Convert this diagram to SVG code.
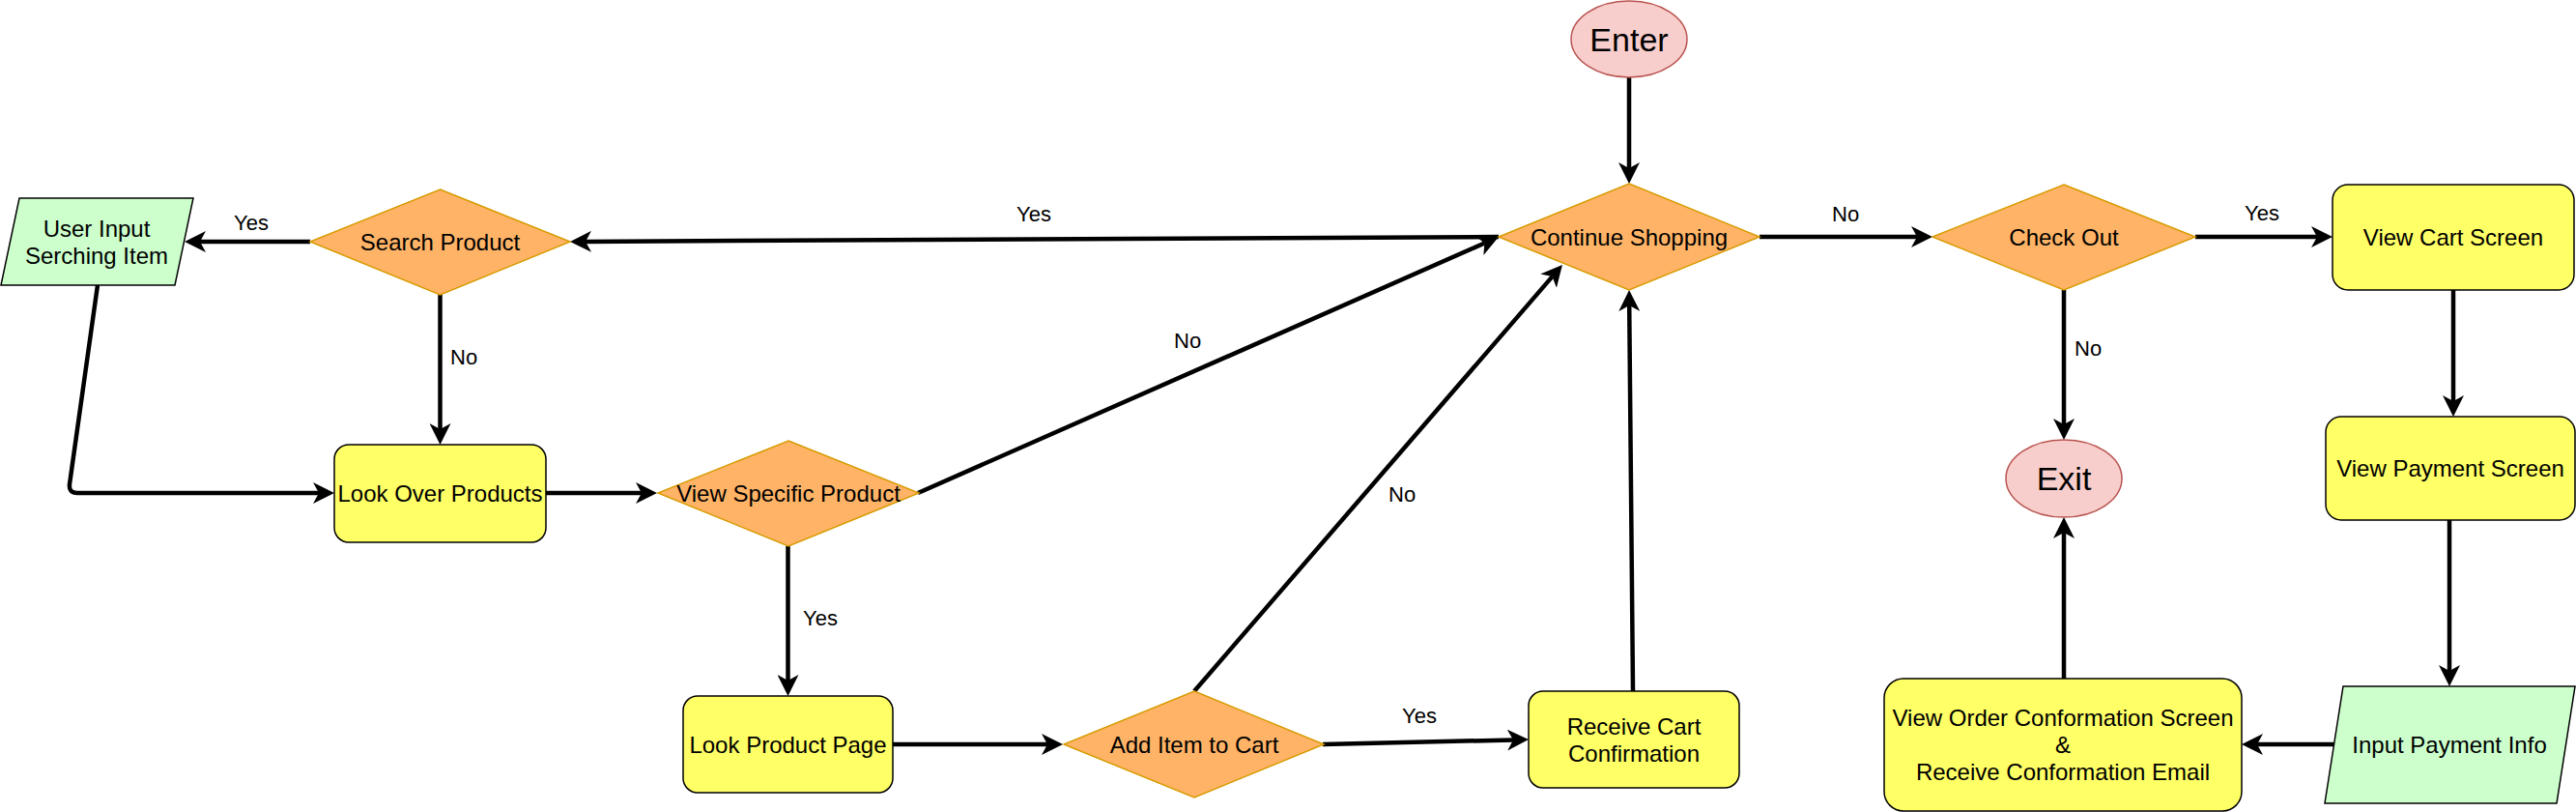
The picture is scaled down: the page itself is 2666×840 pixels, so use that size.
<svg xmlns="http://www.w3.org/2000/svg" width="2666" height="840" viewBox="0 0 2666 840">
<style>
.dia{fill:#FFB366;stroke:#D79B00;stroke-width:1.5}
.box{fill:#FFFF66;stroke:#000;stroke-width:1.5}
.io{fill:#CCFFCC;stroke:#000;stroke-width:1.5}
.term{fill:#F8CECC;stroke:#B85450;stroke-width:1.5}
.t{font-family:"Liberation Sans",Arial,sans-serif;font-size:24px;fill:#000;text-anchor:middle}
.big{font-size:34px}
.lbl{font-family:"Liberation Sans",Arial,sans-serif;font-size:22px;fill:#000}
.c{fill:none;stroke:#000;stroke-width:4.5;marker-end:url(#arr)}
</style>
<defs>
<marker id="arr" markerUnits="userSpaceOnUse" markerWidth="22" markerHeight="22" viewBox="0 0 22 22" refX="6" refY="11" orient="auto">
<path d="M0,0 L22,11 L0,22 L6,11 Z" fill="#000"/>
</marker>
</defs>
<rect width="2666" height="840" fill="#fff"/>
<g id="connectors">
<path class="c" d="M1686,80 L1686,174"/>
<path class="c" d="M1551,245 L606,249.9"/>
<path class="c" d="M321,250 L207,250"/>
<path class="c" d="M455.5,305 L455.5,444"/>
<path class="c" d="M101,295 L72,501 Q71,510 80,510 L330,510"/>
<path class="c" d="M565,510 L664,510"/>
<path class="c" d="M950,510 L1536.4,251.5"/>
<path class="c" d="M815.5,565 L815.5,704"/>
<path class="c" d="M924,770 L1084,770"/>
<path class="c" d="M1236,715 L1606.5,286.1"/>
<path class="c" d="M1369,770 L1566,765.4"/>
<path class="c" d="M1690,715 L1686.2,316"/>
<path class="c" d="M1821,245 L1984,245"/>
<path class="c" d="M2272,245 L2398,245"/>
<path class="c" d="M2136,300 L2136,439"/>
<path class="c" d="M2539,300 L2539,415"/>
<path class="c" d="M2535,538 L2535,694"/>
<path class="c" d="M2415,770 L2336,770"/>
<path class="c" d="M2136,702 L2136,551"/>
<text class="lbl" x="1052" y="229">Yes</text>
<text class="lbl" x="242" y="238">Yes</text>
<text class="lbl" x="466" y="377">No</text>
<text class="lbl" x="1215" y="360">No</text>
<text class="lbl" x="831" y="647">Yes</text>
<text class="lbl" x="1437" y="519">No</text>
<text class="lbl" x="1451" y="748">Yes</text>
<text class="lbl" x="1896" y="229">No</text>
<text class="lbl" x="2323" y="228">Yes</text>
<text class="lbl" x="2147" y="368">No</text>
</g>
<g id="enter">
<ellipse class="term" cx="1686" cy="40.5" rx="60" ry="39.5"/>
<text class="t big" x="1686" y="53">Enter</text>
</g>
<g id="continue-shopping">
<polygon class="dia" points="1686,190 1821,245 1686,300 1551,245"/>
<text class="t" x="1686" y="253.5">Continue Shopping</text>
</g>
<g id="search-product">
<polygon class="dia" points="455.5,196 590,250 455.5,305 321,250"/>
<text class="t" x="455.5" y="258.5">Search Product</text>
</g>
<g id="user-input">
<polygon class="io" points="20,205 200,205 181,295 1,295"/>
<text class="t" x="100" y="244.5">User Input</text>
<text class="t" x="100" y="272.5">Serching Item</text>
</g>
<g id="look-over-products">
<rect class="box" x="346" y="460" width="219" height="101" rx="15" ry="15"/>
<text class="t" x="455.5" y="519">Look Over Products</text>
</g>
<g id="view-specific-product">
<polygon class="dia" points="816,456 951,510 816,565 681,510"/>
<text class="t" x="816" y="518.5">View Specific Product</text>
</g>
<g id="look-product-page">
<rect class="box" x="707" y="720" width="217" height="100" rx="15" ry="15"/>
<text class="t" x="815.5" y="778.5">Look Product Page</text>
</g>
<g id="add-item-to-cart">
<polygon class="dia" points="1236,715 1370,770 1236,825 1101,770"/>
<text class="t" x="1236" y="778.5">Add Item to Cart</text>
</g>
<g id="receive-cart-confirmation">
<rect class="box" x="1582" y="715" width="218" height="100" rx="15" ry="15"/>
<text class="t" x="1691" y="759.5">Receive Cart</text>
<text class="t" x="1691" y="787.5">Confirmation</text>
</g>
<g id="check-out">
<polygon class="dia" points="2136,191 2272,245 2136,300 2000,245"/>
<text class="t" x="2136" y="253.5">Check Out</text>
</g>
<g id="exit">
<ellipse class="term" cx="2136" cy="495" rx="60" ry="40"/>
<text class="t big" x="2136" y="507">Exit</text>
</g>
<g id="view-cart-screen">
<rect class="box" x="2414" y="191" width="250" height="109" rx="16" ry="16"/>
<text class="t" x="2539" y="254">View Cart Screen</text>
</g>
<g id="view-payment-screen">
<rect class="box" x="2407" y="431" width="258" height="107" rx="16" ry="16"/>
<text class="t" x="2536" y="493">View Payment Screen</text>
</g>
<g id="input-payment-info">
<polygon class="io" points="2425,710 2665,710 2646,831 2406,831"/>
<text class="t" x="2535" y="778.5">Input Payment Info</text>
</g>
<g id="view-order-confirmation">
<rect class="box" x="1950" y="702" width="370" height="137" rx="20" ry="20"/>
<text class="t" x="2135" y="751">View Order Conformation Screen</text>
<text class="t" x="2135" y="779">&amp;</text>
<text class="t" x="2135" y="807">Receive Conformation Email</text>
</g>
</svg>
